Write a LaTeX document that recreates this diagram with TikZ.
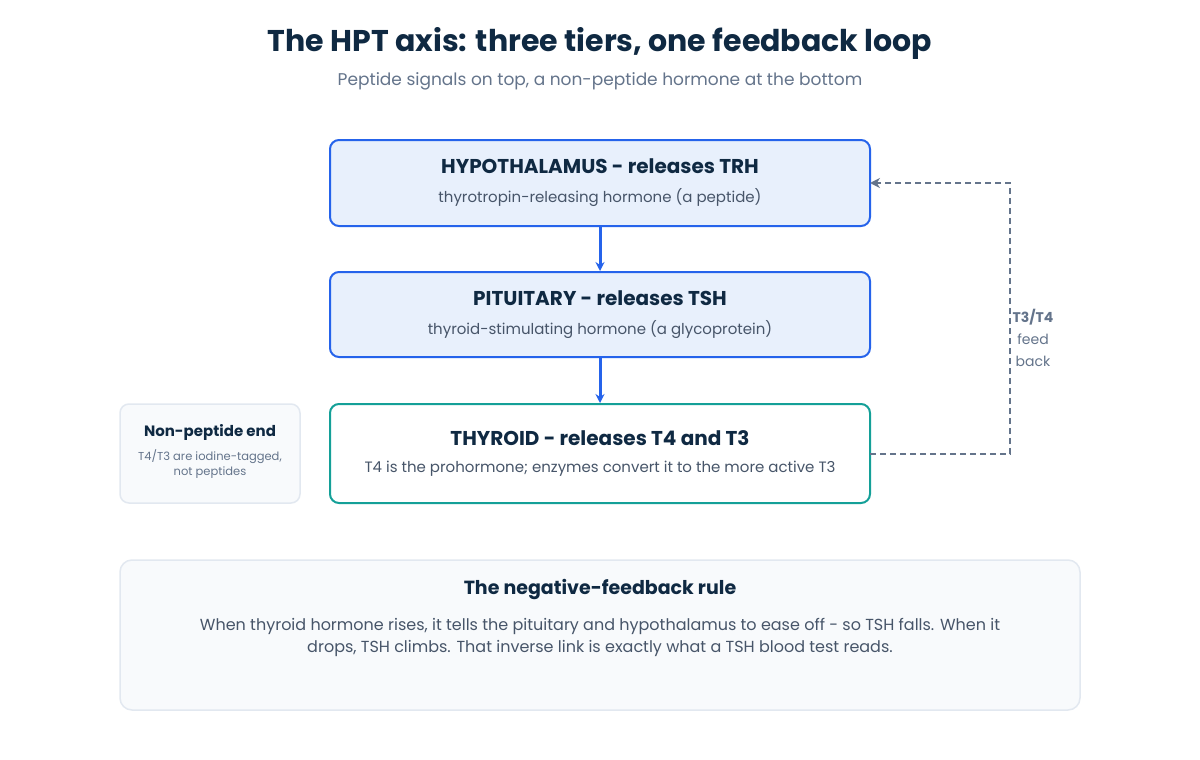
\documentclass[tikz,border=0pt]{standalone}
\usepackage{fontspec}
\setmainfont{Poppins}
\usetikzlibrary{arrows.meta}
\definecolor{navy}{HTML}{0F2942}
\definecolor{slate}{HTML}{64748B}
\definecolor{body}{HTML}{475569}
\definecolor{blue}{HTML}{2563EB}
\definecolor{lblue}{HTML}{E8F0FC}
\definecolor{teal}{HTML}{14A098}
\definecolor{pale}{HTML}{F8FAFC}
\definecolor{edge}{HTML}{E2E8F0}
\begin{document}
\begin{tikzpicture}[x=1pt,y=-1pt,
  tier/.style={draw=blue,line width=2pt,fill=lblue,rounded corners=9pt},
  ttl/.style={text=navy,font=\fontsize{20}{24}\selectfont\bfseries},
  sub/.style={text=body,font=\fontsize{15}{18}\selectfont},
  flow/.style={blue,line width=3pt,-{Stealth[length=9pt,width=9pt]}},
  fb/.style={slate,line width=2.5pt,dash pattern=on 6pt off 4pt}]
\useasboundingbox (0,0) rectangle (1200,760);
\fill[white] (0,0) rectangle (1200,760);
\node[text=navy,font=\fontsize{30}{36}\selectfont\bfseries] (title) at (600,43) {The HPT axis: three tiers, one feedback loop};
\node[text=slate,font=\fontsize{17}{20}\selectfont] (subt) at (600,81) {Peptide signals on top, a non-peptide hormone at the bottom};

\draw[tier] (330,140) rectangle (870,226);
\node[ttl] (h1) at (600,166) {HYPOTHALAMUS - releases TRH};
\node[sub] (h2) at (600,198) {thyrotropin-releasing hormone (a peptide)};
\coordinate (hb) at (600,226); \coordinate (hr) at (870,183);

\draw[tier] (330,272) rectangle (870,357);
\node[ttl] (p1) at (600,298) {PITUITARY - releases TSH};
\node[sub] (p2) at (600,330) {thyroid-stimulating hormone (a glycoprotein)};
\coordinate (pt) at (600,271); \coordinate (pb) at (600,357);

\draw[draw=teal,line width=2pt,fill=white,rounded corners=9pt] (330,404) rectangle (870,503);
\node[ttl] (t1) at (600,438) {THYROID - releases T4 and T3};
\node[sub] (t2) at (600,469) {T4 is the prohormone; enzymes convert it to the more active T3};
\coordinate (tt) at (600,403); \coordinate (tr) at (870,454);

\draw[draw=edge,line width=1.5pt,fill=pale,rounded corners=9pt] (120,404) rectangle (300,503);
\node[text=navy,font=\fontsize{15}{18}\selectfont\bfseries] (n1) at (210,432) {Non-peptide end};
\node[text=slate,font=\fontsize{11.5}{15}\selectfont,align=center] (n2) at (210,464) {T4/T3 are iodine-tagged,\\not peptides};

\draw[draw=edge,line width=1.5pt,fill=pale,rounded corners=12pt] (120,560) rectangle (1080,710);
\node[text=navy,font=\fontsize{19}{22}\selectfont\bfseries] (r1) at (600,589) {The negative-feedback rule};
\node[text=body,font=\fontsize{16}{22}\selectfont,align=center] (r2) at (600,637) {When thyroid hormone rises, it tells the pituitary and hypothalamus to ease off - so TSH falls. When it\\drops, TSH climbs. That inverse link is exactly what a TSH blood test reads.};

\draw[flow] (hb) -- (pt);
\draw[flow] (pb) -- (tt);

\coordinate (c1) at (1010,454); \coordinate (c2) at (1010,183);
\draw[fb] (tr) -- (c1) -- (c2) -- ([xshift=8pt]hr);
\draw[slate,line width=2.5pt,-{Stealth[length=10pt,width=10pt]}] ([xshift=10pt]hr) -- (hr);
\node[fill=white,align=center,text=slate,font=\fontsize{14}{22}\selectfont,inner sep=2pt] (fl) at (1033,338) {\textbf{T3/T4}\\feed\\back};
\end{tikzpicture}
\end{document}
